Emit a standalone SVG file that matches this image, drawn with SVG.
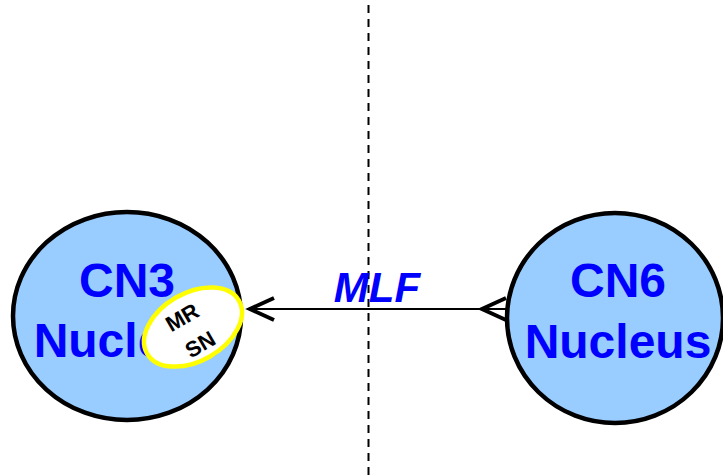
<svg xmlns="http://www.w3.org/2000/svg" width="723" height="475" viewBox="0 0 723 475">
<style>
.nuc{fill:#99CCFF;stroke:#000;stroke-width:4.5}
.big{font-family:"Liberation Sans",Arial,sans-serif;font-weight:bold;font-size:48px;fill:#0000FF;text-anchor:middle}
.small{font-family:"Liberation Sans",Arial,sans-serif;font-weight:bold;font-size:22px;fill:#000;text-anchor:middle}
.conn{fill:none;stroke:#000;stroke-width:2}
.head{fill:none;stroke:#000;stroke-width:4}
</style>
<g id="midline">
<line x1="368.5" y1="5" x2="368.5" y2="475" stroke="#000" stroke-width="2" stroke-dasharray="8,6"/>
</g>
<g id="cn3">
<ellipse class="nuc" cx="127" cy="316" rx="114" ry="104"/>
<text class="big" x="127" y="297">CN3</text>
<text class="big" x="127" y="357">Nucleus</text>
</g>
<g id="mrsn">
<ellipse cx="193" cy="327" rx="53" ry="34" transform="rotate(-30 193 327)" fill="#fff" stroke="#FFFF00" stroke-width="4.5"/>
<text class="small" transform="translate(186 324) rotate(-30)">MR</text>
<text class="small" transform="translate(204 351) rotate(-30)">SN</text>
</g>
<g id="cn6">
<ellipse class="nuc" cx="615" cy="318" rx="108" ry="105"/>
<text class="big" x="618" y="297">CN6</text>
<text class="big" x="618" y="358">Nucleus</text>
</g>
<g id="connectors">
<line class="conn" x1="250" y1="309" x2="506" y2="309"/>
<path class="head" d="M274,298 L250,309 L274,320"/>
<path class="head" d="M506,298 L482,309 L506,320"/>
<text x="377" y="302" font-family="Liberation Sans,Arial,sans-serif" font-weight="bold" font-style="italic" font-size="42" fill="#0000FF" text-anchor="middle">MLF</text>
</g>
</svg>
